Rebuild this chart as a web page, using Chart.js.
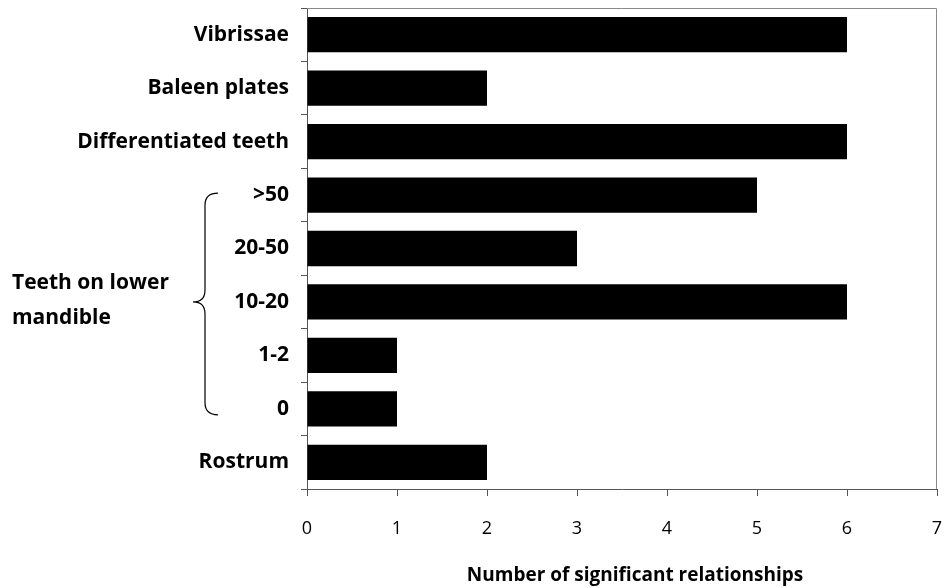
<!DOCTYPE html>
<html>
<head>
<meta charset="utf-8">
<script src="https://cdn.jsdelivr.net/npm/chart.js@4/dist/chart.umd.min.js"></script>
<style>
  html, body { margin: 0; padding: 0; background: #fff; }
  #wrap { width: 945px; height: 588px; }
</style>
</head>
<body>
<div id="wrap"><canvas id="chart"></canvas></div>
<script>
// data
const categories = ['Vibrissae', 'Baleen plates', 'Differentiated teeth', '>50', '20-50', '10-20', '1-2', '0', 'Rostrum'];
const counts = [6, 2, 6, 5, 3, 6, 1, 1, 2];
const xTicks = [0, 1, 2, 3, 4, 5, 6, 7];
const groupLabel = ['Teeth on lower', 'mandible'];
const groupFrom = '>50', groupMid = '10-20', groupTo = '0';
const axisTitle = 'Number of significant relationships';

const FONT = '"Open Sans", "Liberation Sans", Arial, sans-serif';

// plot frame, curly bracket and the text that is not a tick label
const extras = {
  id: 'extras',
  afterDraw(chart) {
    const { ctx, chartArea: a, scales: { y } } = chart;
    ctx.save();
    ctx.strokeStyle = '#8a8a8a';
    ctx.lineWidth = 1;
    ctx.beginPath();
    ctx.moveTo(a.left, a.top + 0.5);
    ctx.lineTo(a.right - 0.5, a.top + 0.5);
    ctx.lineTo(a.right - 0.5, a.bottom);
    ctx.stroke();

    const yTop = y.getPixelForValue(categories.indexOf(groupFrom)) - 2;
    const yMid = y.getPixelForValue(categories.indexOf(groupMid));
    const yBot = y.getPixelForValue(categories.indexOf(groupTo)) + 6;
    const xe = 218, xs = 205, xp = 193, r = 12;
    ctx.strokeStyle = '#000';
    ctx.lineWidth = 1.2;
    ctx.beginPath();
    ctx.moveTo(xe, yTop);
    ctx.quadraticCurveTo(xs, yTop, xs, yTop + r);
    ctx.lineTo(xs, yMid - r);
    ctx.quadraticCurveTo(xs, yMid, xp, yMid);
    ctx.quadraticCurveTo(xs, yMid, xs, yMid + r);
    ctx.lineTo(xs, yBot - r);
    ctx.quadraticCurveTo(xs, yBot, xe, yBot);
    ctx.stroke();

    ctx.fillStyle = '#000';
    ctx.font = 'bold 21px ' + FONT;
    ctx.textAlign = 'left';
    ctx.textBaseline = 'middle';
    ctx.fillText(groupLabel[0], 12, yMid - 19);
    ctx.fillText(groupLabel[1], 12, yMid + 16);

    ctx.font = 'bold 19px ' + FONT;
    ctx.textAlign = 'center';
    ctx.fillText(axisTitle, 635, 576);
    ctx.restore();
  }
};

new Chart(document.getElementById('chart'), {
  type: 'bar',
  data: {
    labels: categories,
    datasets: [{
      data: counts,
      backgroundColor: '#000',
      borderWidth: 0,
      barPercentage: 0.66,
      categoryPercentage: 1
    }]
  },
  options: {
    indexAxis: 'y',
    responsive: true,
    maintainAspectRatio: false,
    animation: false,
    layout: { padding: { top: 8, right: 8, left: 0, bottom: 0 } },
    plugins: { legend: { display: false }, tooltip: { enabled: false } },
    scales: {
      x: {
        min: 0,
        max: 7,
        afterBuildTicks(s) { s.ticks = xTicks.map(v => ({ value: v })); },
        afterFit(s) { s.height = 99; s.paddingLeft = 0; s.paddingRight = 0; },
        grid: { drawOnChartArea: false, drawTicks: true, tickLength: 7, color: '#555' },
        border: { display: true, color: '#555', width: 1 },
        ticks: { color: '#000', padding: 22, font: { family: FONT, size: 18 } }
      },
      y: {
        afterFit(s) { s.width = 307; s.paddingTop = 0; s.paddingBottom = 0; },
        grid: { offset: true, drawOnChartArea: false, drawTicks: true, tickLength: 6, color: '#555' },
        border: { display: true, color: '#555', width: 1 },
        ticks: { color: '#000', padding: 12, font: { family: FONT, size: 21, weight: 'bold' } }
      }
    }
  },
  plugins: [extras]
});
</script>
</body>
</html>
